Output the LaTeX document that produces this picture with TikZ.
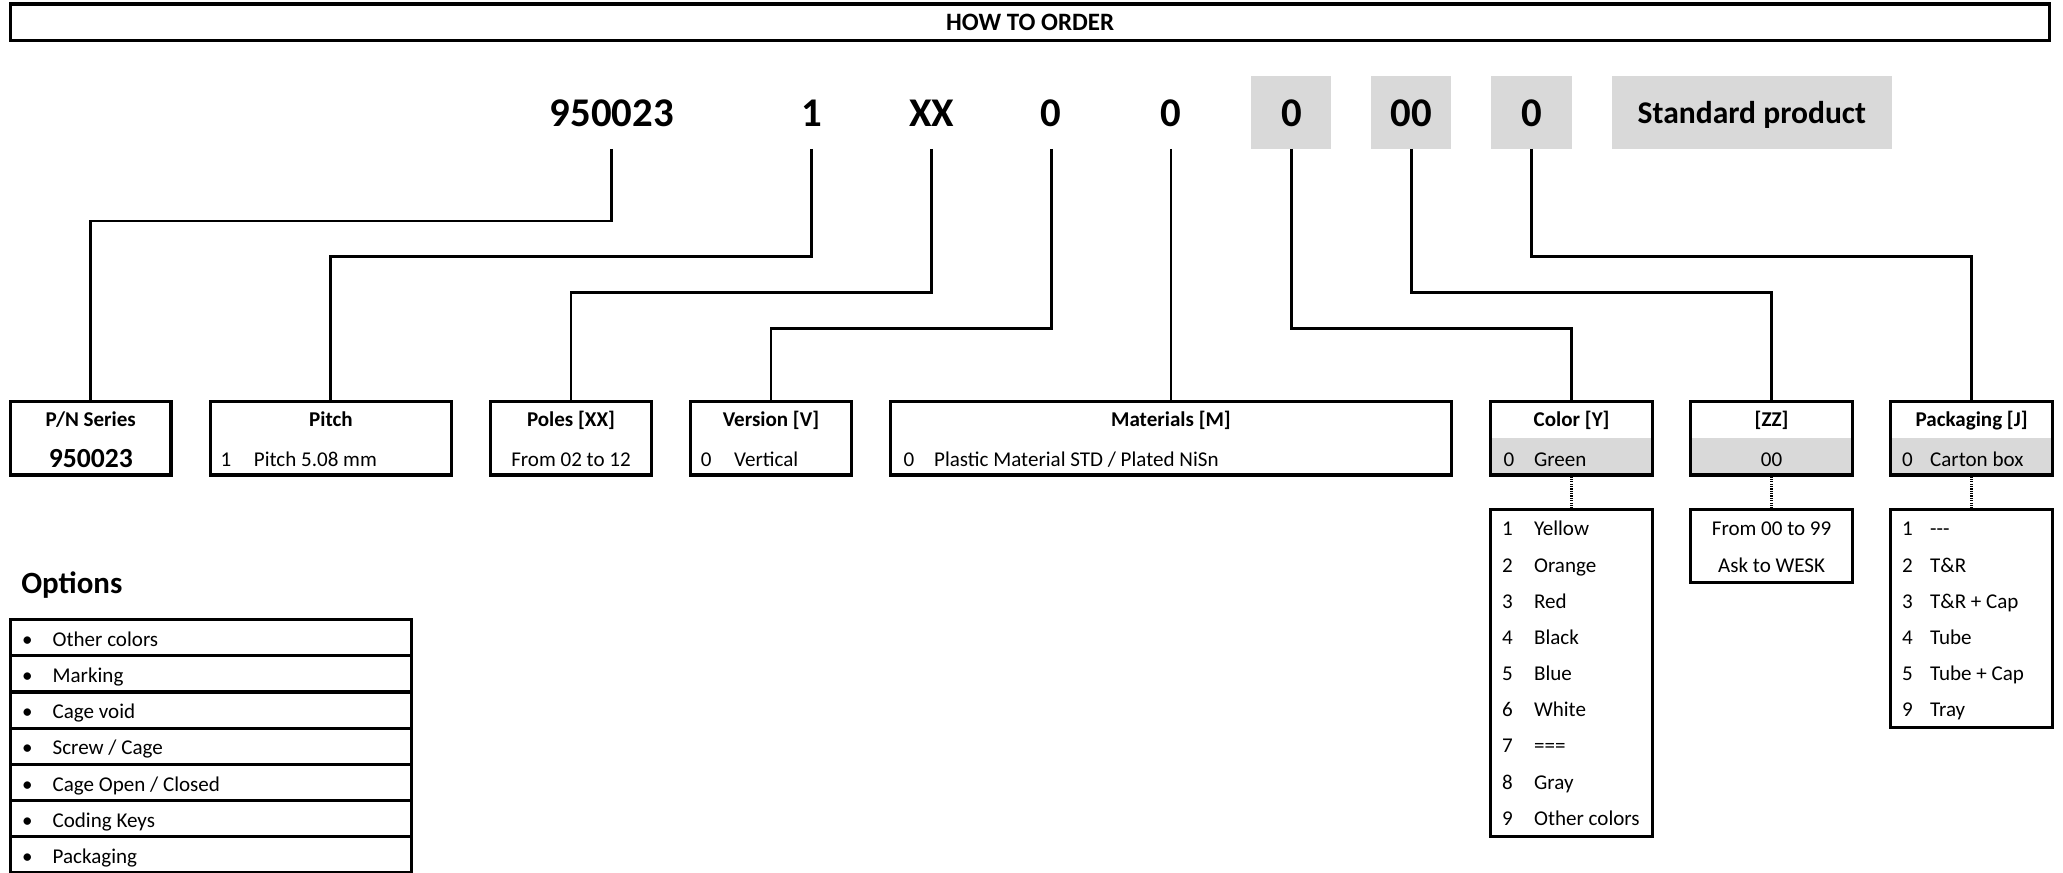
\documentclass[tikz,border=0pt]{standalone}
\usepackage{fontspec}
\setmainfont{Carlito}
\usetikzlibrary{calc,backgrounds}
\definecolor{gbox}{HTML}{D9D9D9}
\newcommand\fzN{\fontsize{16}{19}\selectfont}
\newcommand\fzT{\fontsize{19}{22}\selectfont}
\newcommand\fzC{\fontsize{31}{36}\selectfont}
\newcommand\fzS{\fontsize{24}{28}\selectfont}
\newcommand\fzP{\fontsize{21}{25}\selectfont}
\newcommand\fzO{\fontsize{23.5}{27}\selectfont}
\begin{document}
\begin{tikzpicture}[x=1pt,y=-1pt,line join=miter,
  bx/.style={draw,line width=2.4pt,inner sep=0pt,minimum height=56pt},
  code/.style={minimum width=61pt,minimum height=55pt,inner sep=0pt,font=\fzC\bfseries,text height=21pt,text depth=0pt},
  gcode/.style={code,fill=gbox},
  conn/.style={line width=2.2pt},
  dots/.style={line width=2.6pt,dash pattern=on 0.9pt off 0.9pt},
  txt/.style={inner sep=0pt,font=\fzN,text height=13pt,text depth=0pt},
  btxt/.style={txt,font=\fzN\bfseries},
  orow/.style={draw,line width=2.4pt,inner sep=0pt,minimum width=305pt,minimum height=27.5pt}]
\useasboundingbox (0,0) rectangle (1568,663);

% title
\node[draw,line width=2.4pt,minimum width=1550pt,minimum height=28pt,inner sep=0pt,
      font=\fzT\bfseries,text height=13pt,text depth=0pt] (title) at (783,17) {HOW TO ORDER};

% code row
\node[code] (c1) at (465,85.5) {950023};
\node[code] (c2) at (617,85.5) {1};
\node[code] (c3) at (708,85.5) {XX};
\node[code] (c4) at (799,85.5) {0};
\node[code] (c5) at (890,85.5) {0};
\node[gcode] (c6) at (981.5,85.5) {0};
\node[gcode] (c7) at (1072.5,85.5) {00};
\node[gcode] (c8) at (1164,85.5) {0};
\node[gcode,minimum width=213pt,font=\fzS\bfseries,text height=16.5pt] (std) at (1331.5,85.5) {Standard product};

% bottom boxes
\node[bx,minimum width=122pt] (pn) at (69,333) {};
\node[bx,minimum width=183pt] (pitch) at (251.5,333) {};
\node[bx,minimum width=122pt] (poles) at (434,333) {};
\node[bx,minimum width=122pt] (ver) at (586,333) {};
\node[bx,minimum width=426pt] (mat) at (890,333) {};
\node[bx,minimum width=123pt] (col) at (1194.5,333) {};
\node[bx,minimum width=123pt] (zz) at (1346.5,333) {};
\node[bx,minimum width=123pt] (pack) at (1498.5,333) {};

\begin{scope}[on background layer]
  \fill[gbox] (col.west) rectangle (col.south east);
  \fill[gbox] (zz.west) rectangle (zz.south east);
  \fill[gbox] (pack.west) rectangle (pack.south east);
\end{scope}

% box titles
\node[btxt] (pnT) at ($(pn.north)+(0,14)$) {P/N Series};
\node[inner sep=0pt,font=\fzP\bfseries,text height=14pt,text depth=0pt] (pnV) at ($(pn.south)+(0,-14)$) {950023};
\node[btxt] (pitchT) at ($(pitch.north)+(0,14)$) {Pitch};
\node[txt] (pitchN) at ($(pitch.south west)+(13,-14)$) {1};
\node[txt,anchor=west] (pitchV) at ($(pitch.south west)+(34,-14)$) {Pitch 5.08 mm};
\node[btxt] (polesT) at ($(poles.north)+(0,14)$) {Poles [XX]};
\node[txt] (polesV) at ($(poles.south)+(0,-14)$) {From 02 to 12};
\node[btxt] (verT) at ($(ver.north)+(0,14)$) {Version [V]};
\node[txt] (verN) at ($(ver.south west)+(13,-14)$) {0};
\node[txt,anchor=west] (verV) at ($(ver.south west)+(34,-14)$) {Vertical};
\node[btxt] (matT) at ($(mat.north)+(0,14)$) {Materials [M]};
\node[txt] (matN) at ($(mat.south west)+(15,-14)$) {0};
\node[txt,anchor=west] (matV) at ($(mat.south west)+(34,-14)$) {Plastic Material STD / Plated NiSn};
\node[btxt] (colT) at ($(col.north)+(0,14)$) {Color [Y]};
\node[txt] (colN) at ($(col.south west)+(15,-14)$) {0};
\node[txt,anchor=west] (colV) at ($(col.south west)+(34,-14)$) {Green};
\node[btxt] (zzT) at ($(zz.north)+(0,14)$) {[ZZ]};
\node[txt] (zzV) at ($(zz.south)+(0,-14)$) {00};
\node[btxt] (packT) at ($(pack.north)+(0,14)$) {Packaging [J]};
\node[txt] (packN) at ($(pack.south west)+(14,-14)$) {0};
\node[txt,anchor=west] (packV) at ($(pack.south west)+(31,-14)$) {Carton box};

% connectors
\draw[conn] (c1.south) -- (c1.south |- 0,168) -| (pn.north);
\draw[conn] (c2.south) -- (c2.south |- 0,195) -| (pitch.north);
\draw[conn] (c3.south) -- (c3.south |- 0,222) -| (poles.north);
\draw[conn] (c4.south) -- (c4.south |- 0,250) -| (ver.north);
\draw[conn] (c5.south) -- (mat.north);
\draw[conn] (c6.south) -- (c6.south |- 0,250) -| (col.north);
\draw[conn] (c7.south) -- (c7.south |- 0,222) -| (zz.north);
\draw[conn] (c8.south) -- (c8.south |- 0,195) -| (pack.north);

% option lists
\node[draw,line width=2.4pt,inner sep=0pt,minimum width=123pt,minimum height=249pt] (colL) at (1194.5,511.5) {};
\node[draw,line width=2.4pt,inner sep=0pt,minimum width=123pt,minimum height=56pt] (zzL) at (1346.5,415) {};
\node[draw,line width=2.4pt,inner sep=0pt,minimum width=123pt,minimum height=166pt] (packL) at (1498.5,470) {};

\draw[dots] (col.south) -- (colL.north);
\draw[dots] (zz.south) -- (zzL.north);
\draw[dots] (pack.south) -- (packL.north);

\foreach \n/\t [count=\i] in {1/Yellow,2/Orange,3/Red,4/Black,5/Blue,6/White,7/===,8/Gray,9/Other colors}{
  \node[txt] (colLn\i) at ($(colL.north west)+(14,15+27.5*\i-27.5)$) {\n};
  \node[txt,anchor=west] (colLt\i) at ($(colL.north west)+(34,15+27.5*\i-27.5)$) {\t};
}
\node[txt] (zzL1) at ($(zzL.north)+(0,15)$) {From 00 to 99};
\node[txt] (zzL2) at ($(zzL.north)+(0,42.5)$) {Ask to WESK};
\foreach \n/\t [count=\i] in {1/{-}{-}{-},2/T\&R,3/T\&R + Cap,4/Tube,5/Tube + Cap,9/Tray}{
  \node[txt] (packLn\i) at ($(packL.north west)+(14,15+27.5*\i-27.5)$) {\n};
  \node[txt,anchor=west] (packLt\i) at ($(packL.north west)+(31,15+27.5*\i-27.5)$) {\t};
}

% options
\node[inner sep=0pt,anchor=west,font=\fzO\bfseries,text height=16pt,text depth=0pt] (optT) at (16,443) {Options};
\foreach \t [count=\i] in {Other colors,Marking,Cage void,Screw / Cage,Cage Open / Closed,Coding Keys,Packaging}{
  \node[orow] (opt\i) at (160.5,484.75+27.5*\i-27.5) {};
  \node[txt] (optb\i) at ($(opt\i.west)+(14,0)$) {•};
  \node[txt,anchor=west] (optt\i) at ($(opt\i.west)+(33,0)$) {\t};
}
\end{tikzpicture}
\end{document}
